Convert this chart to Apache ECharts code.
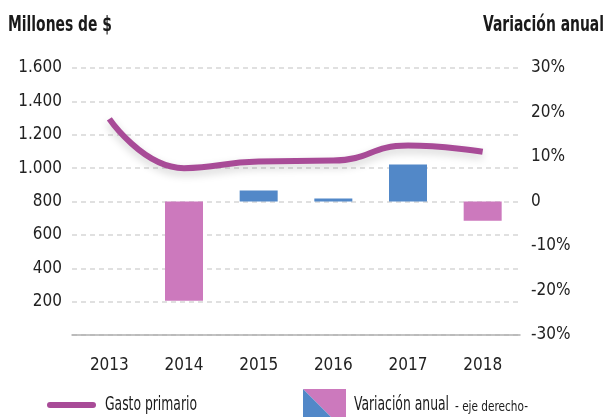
<!DOCTYPE html>
<html>
<head>
<meta charset="utf-8">
<script src="https://cdn.jsdelivr.net/npm/echarts@6/dist/echarts.min.js"></script>
<style>
  html, body { margin: 0; padding: 0; background: #fff; }
  #chart { width: 608px; height: 417px; }
</style>
</head>
<body>
<div id="chart"></div>
<script>
  // datos
  const years = ['2013', '2014', '2015', '2016', '2017', '2018']
  const gastoPrimario = [1295, 1000, 1040, 1045, 1135, 1098]
  const variacionAnual = [null, -22.3, 2.5, 0.7, 8.3, -4.3]
  const leftTicks = [0, 1600, 200]
  const rightTicks = [-30, 30, 10]

  const font = '"DejaVu Sans Condensed", "Liberation Sans Narrow", "Noto Sans", sans-serif'
  const pink = '#cc79bd'
  const blue = '#5288c8'
  const lineColor = '#a84b97'

  // la fuente original es muy estrecha: se comprime el texto horizontalmente
  const ctx = document.createElement('canvas').getContext('2d')
  function squeezed(text, css, x, y, width, align) {
    ctx.font = css
    const sx = width / ctx.measureText(text).width
    return {
      type: 'text',
      x: x, y: y,
      scaleX: sx,
      originX: 0,
      style: { text: text, font: css, fill: '#1a1a1a', align: align || 'left', verticalAlign: 'middle' }
    }
  }

  const chart = echarts.init(document.getElementById('chart'))

  chart.setOption({
    animation: false,
    textStyle: { fontFamily: font },
    grid: { left: 72, right: 88, top: 68, bottom: 82 },
    graphic: [
      squeezed('Millones de $', 'bold 22px ' + font, 8, 25, 104),
      squeezed('Variación anual', 'bold 22px ' + font, 604, 25, 121, 'right'),
      { type: 'line', shape: { x1: 50, y1: 405, x2: 93, y2: 405 }, style: { stroke: lineColor, lineWidth: 6, lineCap: 'round' } },
      squeezed('Gasto primario', '20px ' + font, 105, 405, 92),
      { type: 'polygon', shape: { points: [[303, 389], [346, 389], [346, 432]] }, style: { fill: pink } },
      { type: 'polygon', shape: { points: [[303, 389], [346, 432], [303, 432]] }, style: { fill: blue } },
      squeezed('Variación anual', '20px ' + font, 354, 405, 95),
      squeezed('- eje derecho-', '14px ' + font, 455, 407, 73)
    ],
    xAxis: {
      type: 'category',
      data: years,
      axisTick: { show: false },
      axisLine: { lineStyle: { color: '#b0b0b0', width: 1.5 } },
      axisLabel: { color: '#222', fontSize: 17, margin: 22 }
    },
    yAxis: [
      {
        type: 'value',
        min: leftTicks[0],
        max: leftTicks[1],
        interval: leftTicks[2],
        axisLine: { show: false },
        axisTick: { show: false },
        splitLine: { lineStyle: { color: '#d6d6d6', type: [5, 4], width: 1.5 } },
        axisLabel: {
          color: '#222', fontSize: 17, margin: 10,
          formatter: v => v === 0 ? '' : v.toLocaleString('de-DE')
        }
      },
      {
        type: 'value',
        min: rightTicks[0],
        max: rightTicks[1],
        interval: rightTicks[2],
        axisLine: { show: false },
        axisTick: { show: false },
        splitLine: { show: false },
        axisLabel: {
          color: '#222', fontSize: 17, margin: 11,
          formatter: v => v === 0 ? '0' : v + '%'
        }
      }
    ],
    series: [
      {
        name: 'Variación anual',
        type: 'bar',
        yAxisIndex: 1,
        barWidth: 38,
        data: variacionAnual.map(v => ({
          value: v,
          itemStyle: { color: v !== null && v < 0 ? pink : blue }
        }))
      },
      {
        name: 'Gasto primario',
        type: 'line',
        yAxisIndex: 0,
        smooth: 0.5,
        symbol: 'none',
        data: gastoPrimario,
        lineStyle: {
          color: lineColor,
          width: 6,
          shadowColor: 'rgba(0,0,0,0.18)',
          shadowBlur: 8,
          shadowOffsetY: 4
        }
      }
    ]
  })
</script>
</body>
</html>
